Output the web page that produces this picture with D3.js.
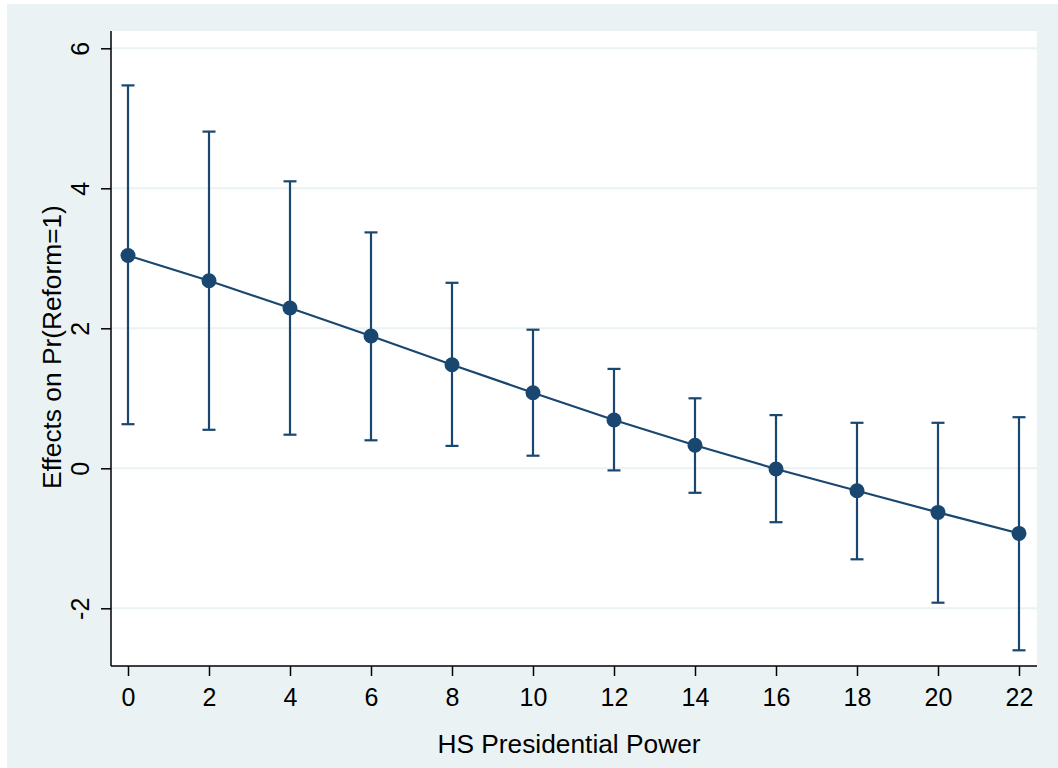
<!DOCTYPE html>
<html>
<head>
<meta charset="utf-8">
<script src="https://cdn.jsdelivr.net/npm/d3@7/dist/d3.min.js"></script>
<style>
  html, body { margin: 0; padding: 0; background: #ffffff; }
  svg { display: block; }
  text { font-family: "Liberation Sans", Arial, sans-serif; fill: #000; }
</style>
</head>
<body>
<svg id="chart" width="1058" height="768"></svg>
<script>
// ---- data ----
const presPower = [0, 2, 4, 6, 8, 10, 12, 14, 16, 18, 20, 22];
const effect    = [3.04, 2.68, 2.29, 1.89, 1.48, 1.08, 0.69, 0.33, -0.01, -0.32, -0.63, -0.93];
const ciUpper   = [5.47, 4.81, 4.10, 3.37, 2.65, 1.98, 1.42, 1.00, 0.76, 0.65, 0.65, 0.73];
const ciLower   = [0.63, 0.55, 0.48, 0.40, 0.32, 0.18, -0.03, -0.35, -0.77, -1.30, -1.92, -2.60];
const xTicks = [0, 2, 4, 6, 8, 10, 12, 14, 16, 18, 20, 22];
const yTicks = [-2, 0, 2, 4, 6];
const xTitle = "HS Presidential Power";
const yTitle = "Effects on Pr(Reform=1)";

// ---- layout ----
const svg = d3.select("#chart");
const plot = { left: 111, right: 1037, top: 31, bottom: 666 };
const navy = "#1a476f";
const bgCol = "#eaf2f3";

svg.append("rect").attr("x", 7).attr("y", 4).attr("width", 1051).attr("height", 764).attr("fill", bgCol);
svg.append("rect").attr("x", plot.left).attr("y", plot.top)
   .attr("width", plot.right - plot.left).attr("height", plot.bottom - plot.top).attr("fill", "#ffffff");

const x = d3.scaleLinear().domain([0, 22]).range([128, 1019]);
const y = d3.scaleLinear().domain([0, 6]).range([468.3, 48.3]);
const plainFmt = d => String(d);

// gridlines
svg.append("g").selectAll("line").data(yTicks).join("line")
  .attr("x1", plot.left).attr("x2", plot.right)
  .attr("y1", d => y(d)).attr("y2", d => y(d))
  .attr("stroke", bgCol).attr("stroke-width", 2);

// axes
const xAxis = d3.axisBottom(x).tickValues(xTicks).tickSize(10).tickPadding(12).tickFormat(plainFmt);
const gx = svg.append("g").attr("transform", `translate(0,${plot.bottom})`).call(xAxis);
gx.select(".domain").attr("d", `M${plot.left},0H${plot.right}`).attr("stroke", "#000").attr("stroke-width", 1.5);
gx.selectAll(".tick line").attr("stroke", "#000").attr("stroke-width", 1.5);
gx.selectAll(".tick text").attr("font-size", 25).attr("font-family", "Liberation Sans, Arial, sans-serif").attr("fill", "#000");

const yAxis = d3.axisLeft(y).tickValues(yTicks).tickSize(10).tickPadding(0).tickFormat(plainFmt);
const gy = svg.append("g").attr("transform", `translate(${plot.left},0)`).call(yAxis);
gy.select(".domain").attr("d", `M0,${plot.top}V${plot.bottom}`).attr("stroke", "#000").attr("stroke-width", 1.5);
gy.selectAll(".tick line").attr("stroke", "#000").attr("stroke-width", 1.5);
gy.selectAll(".tick text")
  .attr("font-size", 25).attr("font-family", "Liberation Sans, Arial, sans-serif").attr("fill", "#000")
  .attr("x", null).attr("dy", null)
  .attr("text-anchor", "middle")
  .attr("transform", "translate(-22,0) rotate(-90)");

// error bars
const capHalf = 6.5;
const eb = svg.append("g").attr("stroke", navy).attr("stroke-width", 2.2).attr("fill", "none");
presPower.forEach((p, i) => {
  eb.append("line").attr("x1", x(p)).attr("x2", x(p)).attr("y1", y(ciLower[i])).attr("y2", y(ciUpper[i]));
  eb.append("line").attr("x1", x(p) - capHalf).attr("x2", x(p) + capHalf).attr("y1", y(ciLower[i])).attr("y2", y(ciLower[i]));
  eb.append("line").attr("x1", x(p) - capHalf).attr("x2", x(p) + capHalf).attr("y1", y(ciUpper[i])).attr("y2", y(ciUpper[i]));
});

// connecting line
const pts = presPower.map((p, i) => [p, effect[i]]);
svg.append("path").datum(pts)
  .attr("d", d3.line().x(d => x(d[0])).y(d => y(d[1])))
  .attr("fill", "none").attr("stroke", navy).attr("stroke-width", 2.2);

// markers
svg.append("g").selectAll("circle").data(pts).join("circle")
  .attr("cx", d => x(d[0])).attr("cy", d => y(d[1])).attr("r", 7.5).attr("fill", navy);

// titles
svg.append("text").attr("x", 569).attr("y", 753).attr("text-anchor", "middle")
  .attr("font-size", 26.3).text(xTitle);
svg.append("text").attr("transform", "translate(61,347) rotate(-90)").attr("text-anchor", "middle")
  .attr("font-size", 26.3).text(yTitle);
</script>
</body>
</html>
